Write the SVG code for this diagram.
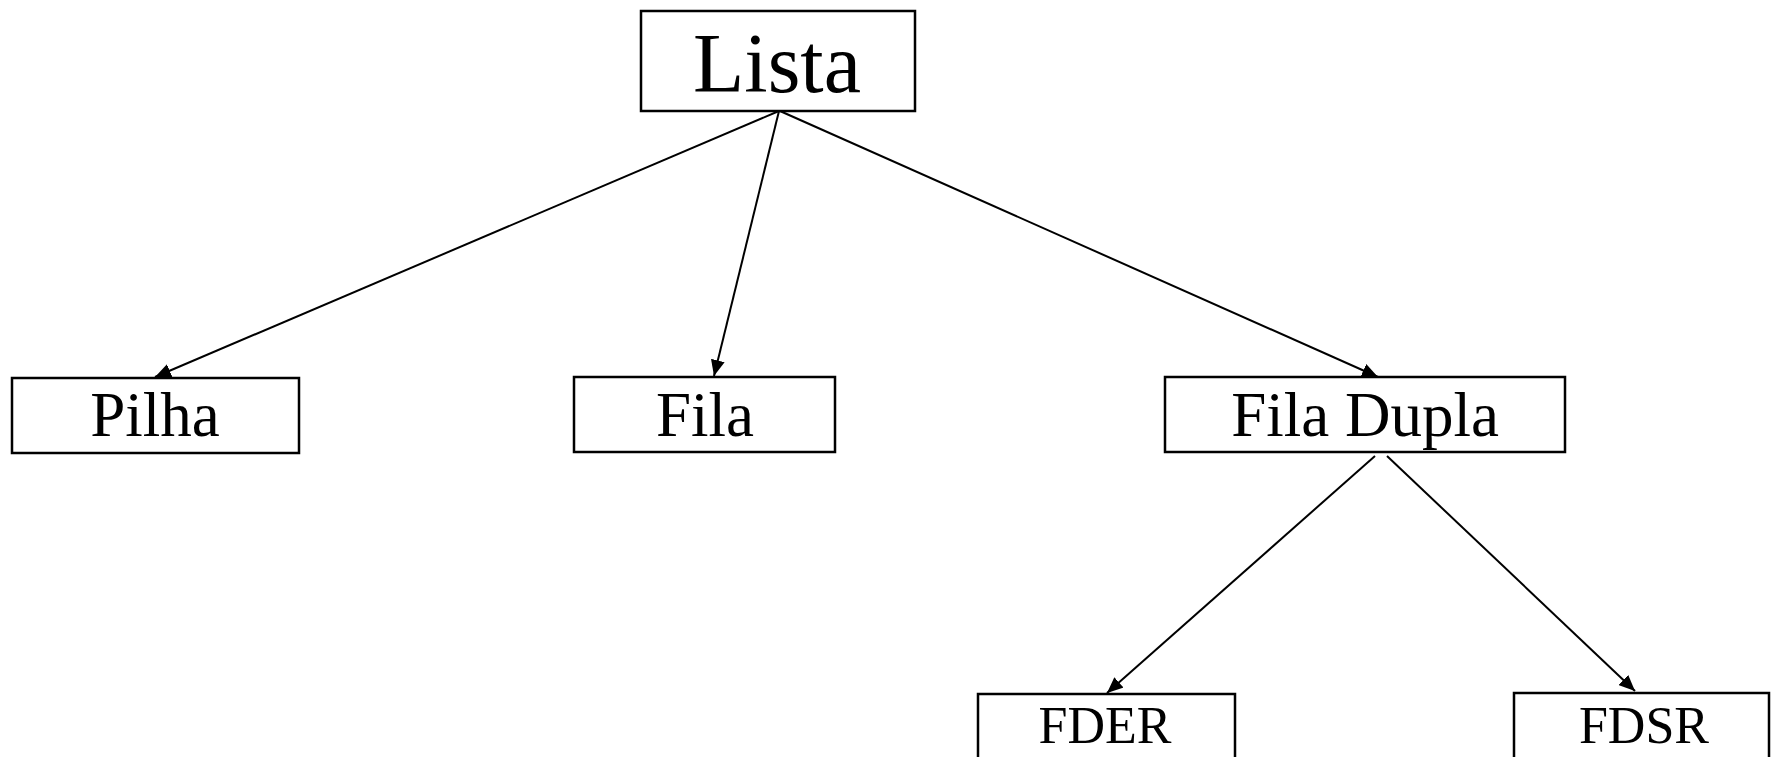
<svg xmlns="http://www.w3.org/2000/svg" width="1774" height="757" viewBox="0 0 1774 757">
  <defs>
    <marker id="arrow" markerUnits="userSpaceOnUse" markerWidth="18" markerHeight="14" refX="16" refY="7" orient="auto">
      <path d="M0,0 L16,7 L0,14 Z" fill="#000"/>
    </marker>
    <style>
      .box { fill: #fff; stroke: #000; stroke-width: 2.5; }
      .lbl { font-family: "Liberation Serif", "Times New Roman", serif; fill: #000; text-anchor: middle; }
      .edge { stroke: #000; stroke-width: 2; fill: none; marker-end: url(#arrow); }
    </style>
  </defs>
  <rect width="1774" height="757" fill="#fff"/>

  <g id="connectors">
    <line class="edge" x1="779" y1="111" x2="155" y2="377"/>
    <line class="edge" x1="779" y1="111" x2="714" y2="376"/>
    <line class="edge" x1="780" y1="111" x2="1378" y2="377"/>
    <line class="edge" x1="1375" y1="456" x2="1107" y2="693"/>
    <line class="edge" x1="1387" y1="456" x2="1635" y2="691"/>
  </g>

  <g id="lista">
    <rect class="box" x="641" y="11" width="274" height="100"/>
    <text class="lbl" x="777" y="92" font-size="84">Lista</text>
  </g>

  <g id="pilha">
    <rect class="box" x="12" y="378" width="287" height="75"/>
    <text class="lbl" x="155" y="436" font-size="63">Pilha</text>
  </g>

  <g id="fila">
    <rect class="box" x="574" y="377" width="261" height="75"/>
    <text class="lbl" x="705" y="436" font-size="63">Fila</text>
  </g>

  <g id="fila-dupla">
    <rect class="box" x="1165" y="377" width="400" height="75"/>
    <text class="lbl" x="1365" y="436" font-size="63">Fila Dupla</text>
  </g>

  <g id="fder">
    <rect class="box" x="978" y="694" width="257" height="75"/>
    <text class="lbl" x="1105" y="743" font-size="52">FDER</text>
  </g>

  <g id="fdsr">
    <rect class="box" x="1514" y="693" width="255" height="75"/>
    <text class="lbl" x="1644" y="743" font-size="52">FDSR</text>
  </g>
</svg>
